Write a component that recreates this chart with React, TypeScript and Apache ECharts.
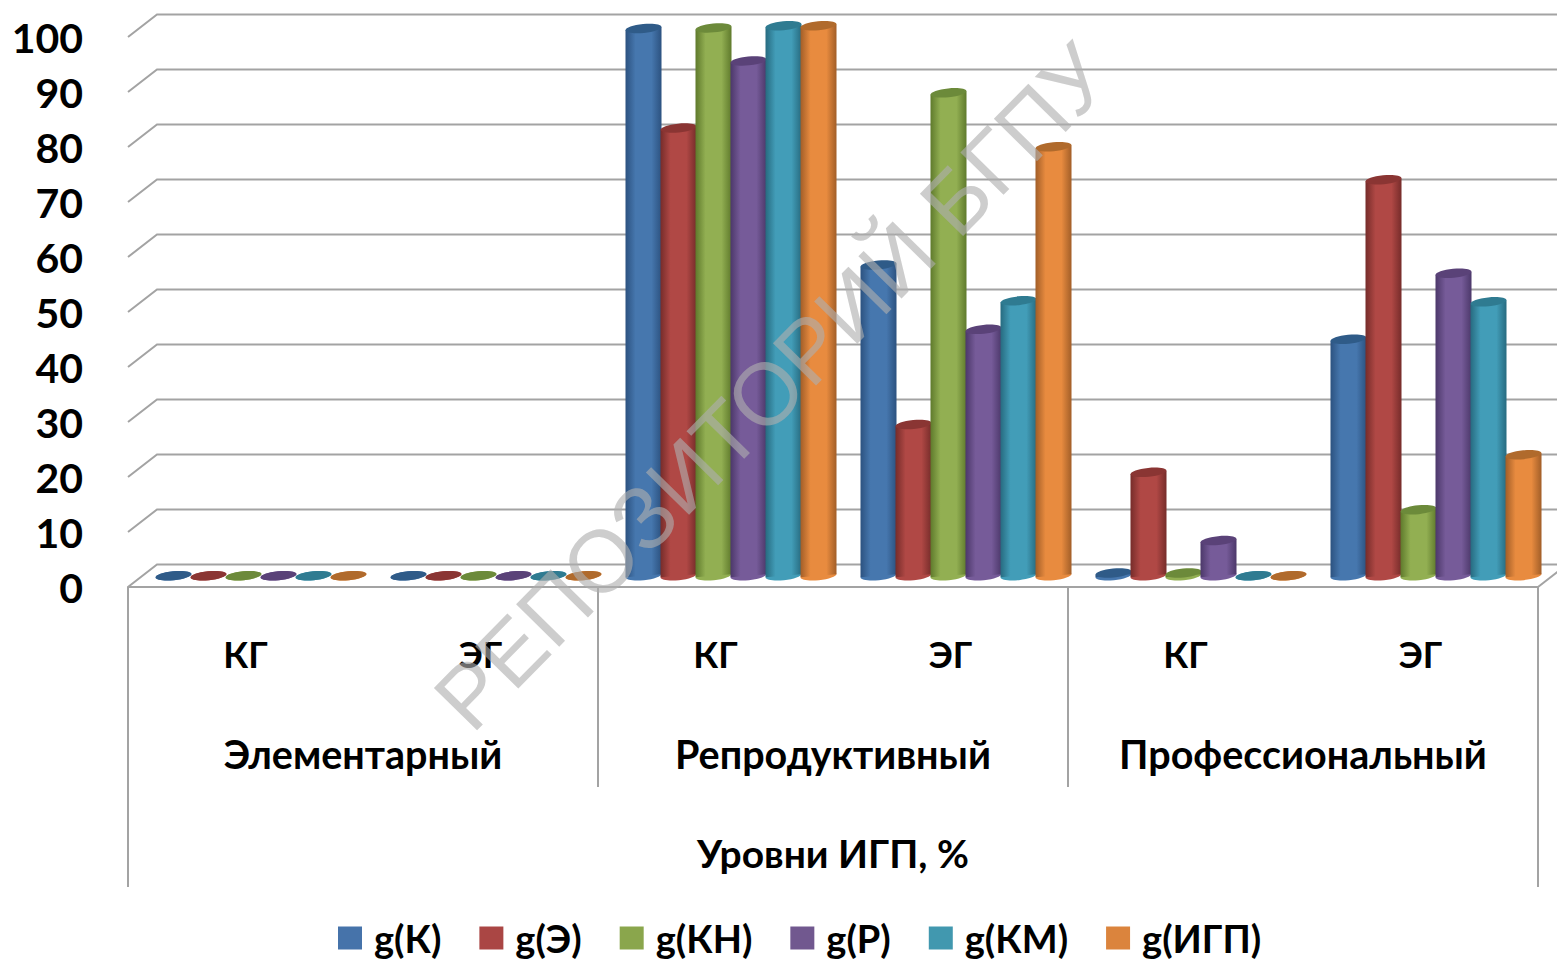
import React, { useEffect, useRef } from "react";
import * as echarts from "echarts";

const groupLabels = ["КГ", "ЭГ", "КГ", "ЭГ", "КГ", "ЭГ"];
const levelLabels = ["Элементарный", "Репродуктивный", "Профессиональный"];
const outerLabels = ["Уровни ИГП, %"];
const yTicks = [0, 10, 20, 30, 40, 50, 60, 70, 80, 90, 100];

const seriesNames = ["g(К)", "g(Э)", "g(КН)", "g(Р)", "g(КМ)", "g(ИГП)"];
const gK = [0, 0, 99.5, 56.5, 0.5, 43];
const gE = [0, 0, 81.4, 27.5, 18.8, 72];
const gKN = [0, 0, 99.6, 87.8, 0.5, 12];
const gR = [0, 0, 93.6, 44.8, 6.4, 55];
const gKM = [0, 0, 100, 50, 0, 49.8];
const gIGP = [0, 0, 100, 78, 0, 22];
const seriesValues = [gK, gE, gKN, gR, gKM, gIGP];

const flatColors = ["#4673aa", "#aa4644", "#8aa64c", "#71588f", "#4198af", "#db843d"];
const edgeColors = ["#2c5280", "#762c2a", "#5f7a2c", "#4c386a", "#276b80", "#a25e28"];
const bodyColors = ["#4677ae", "#b04845", "#92af52", "#765b99", "#429db8", "#e88b3f"];
const capColors = ["#2f5b88", "#8a3533", "#6c8a3a", "#5a4278", "#2f7b91", "#b06a2c"];

const depthX = 29;
const depthY = 22.5;
const barStep = 35;
const barShift = 1;
const radius = 18;
const ry = 4.4;
const tilt = 0.1;
const gridColor = "#a3a3a3";
const labelFont = "Lato, 'Open Sans', sans-serif";

function renderBar(si: number) {
  return (params: any, api: any) => {
    const pTop = api.coord([api.value(0), api.value(1)]);
    const pBase = api.coord([api.value(0), 0]);
    const cx = pTop[0] + depthX / 2 + barShift + (si - 2.5) * barStep;
    const yTop = pTop[1] - depthY / 2;
    const yBase = pBase[1] - depthY / 2;
    const dy = radius * Math.sin(tilt) * 0.85;
    const fill = new echarts.graphic.LinearGradient(0, 0, 1, 0, [
      { offset: 0, color: edgeColors[si] },
      { offset: 0.28, color: bodyColors[si] },
      { offset: 0.72, color: bodyColors[si] },
      { offset: 1, color: edgeColors[si] },
    ]);
    const children: any[] = [
      {
        type: "ellipse",
        x: cx,
        y: yBase,
        rotation: tilt,
        shape: { cx: 0, cy: 0, rx: radius, ry },
        style: { fill: bodyColors[si] },
      },
    ];
    if (yBase - yTop > 1) {
      children.push({
        type: "polygon",
        shape: {
          points: [
            [cx - radius, yBase + dy],
            [cx + radius, yBase - dy],
            [cx + radius, yTop - dy],
            [cx - radius, yTop + dy],
          ],
        },
        style: { fill },
      });
    }
    children.push({
      type: "ellipse",
      x: cx,
      y: yTop,
      rotation: tilt,
      shape: { cx: 0, cy: 0, rx: radius, ry },
      style: { fill: capColors[si] },
    });
    return { type: "group", children };
  };
}

function renderWall(params: any, api: any) {
  const v = api.value(1);
  const p = api.coord([0, v]);
  const sys = params.coordSys;
  const left = sys.x;
  const right = sys.x + sys.width;
  const children: any[] = [
    {
      type: "polyline",
      shape: {
        points: [
          [left, p[1]],
          [left + depthX, p[1] - depthY],
          [right + depthX, p[1] - depthY],
        ],
      },
      style: { stroke: gridColor, lineWidth: 2, fill: "none" },
    },
  ];
  if (v === 0) {
    children.push({
      type: "line",
      shape: { x1: right, y1: p[1], x2: right + depthX, y2: p[1] - depthY },
      style: { stroke: gridColor, lineWidth: 2 },
    });
  }
  return { type: "group", children };
}

export default function App() {
  const ref = useRef<HTMLDivElement>(null);
  useEffect(() => {
    const chart = echarts.init(ref.current!, null, { renderer: "svg" });
    const axisText = { color: "#000", fontWeight: "bold", fontFamily: labelFont, interval: 0 };
    chart.setOption({
      animation: false,
      backgroundColor: "#fff",
      grid: { left: 128, top: 37, width: 1410, height: 550, containLabel: false },
      legend: {
        data: seriesNames,
        left: 338,
        top: 919,
        icon: "rect",
        itemWidth: 24,
        itemHeight: 23,
        itemGap: 38,
        padding: 0,
        selectedMode: false,
        textStyle: { color: "#000", fontWeight: "bold", fontFamily: labelFont, fontSize: 38, padding: [0, 0, 0, 7] },
      },
      xAxis: [
        {
          type: "category",
          data: groupLabels,
          position: "bottom",
          axisLine: { show: true, lineStyle: { color: gridColor, width: 2 } },
          axisTick: { show: false },
          axisLabel: { ...axisText, fontSize: 36, margin: 49 },
        },
        {
          type: "category",
          data: levelLabels,
          position: "bottom",
          axisLine: { show: false },
          axisTick: { show: true, length: 200, lineStyle: { color: gridColor, width: 2 } },
          axisLabel: { ...axisText, fontSize: 39.5, margin: 146 },
        },
        {
          type: "category",
          data: outerLabels,
          position: "bottom",
          axisLine: { show: false },
          axisTick: { show: true, length: 300, lineStyle: { color: gridColor, width: 2 } },
          axisLabel: { ...axisText, fontSize: 39, margin: 246 },
        },
      ],
      yAxis: {
        type: "value",
        min: 0,
        max: 100,
        interval: 10,
        axisLine: { show: false },
        axisTick: { show: false },
        splitLine: { show: false },
        axisLabel: {
          color: "#000",
          fontWeight: "bold",
          fontFamily: labelFont,
          fontSize: 41,
          margin: 45,
          padding: [3, 0, 0, 0],
        },
      },
      graphic: [
        {
          type: "text",
          x: 772,
          y: 387,
          z: 100,
          rotation: (45.5 * Math.PI) / 180,
          silent: true,
          style: {
            text: "РЕПОЗИТОРИЙ БГПУ",
            fontFamily: "'Liberation Sans', Arial, sans-serif",
            fontSize: 88,
            fill: "rgba(175,175,175,0.62)",
            align: "center",
            verticalAlign: "middle",
          },
        },
      ],
      series: [
        {
          type: "custom",
          name: "wall",
          clip: false,
          z: 1,
          silent: true,
          renderItem: renderWall,
          data: yTicks.map((v) => [0, v]),
        },
        ...seriesNames.map((name, si) => ({
          type: "custom",
          name,
          clip: false,
          z: 2,
          silent: true,
          itemStyle: { color: flatColors[si] },
          renderItem: renderBar(si),
          data: seriesValues[si].map((v, i) => [i, v]),
        })),
      ],
    });
    return () => chart.dispose();
  }, []);
  return <div ref={ref} style={{ position: "absolute", left: 0, top: 0, width: 1557, height: 960 }} />;
}
